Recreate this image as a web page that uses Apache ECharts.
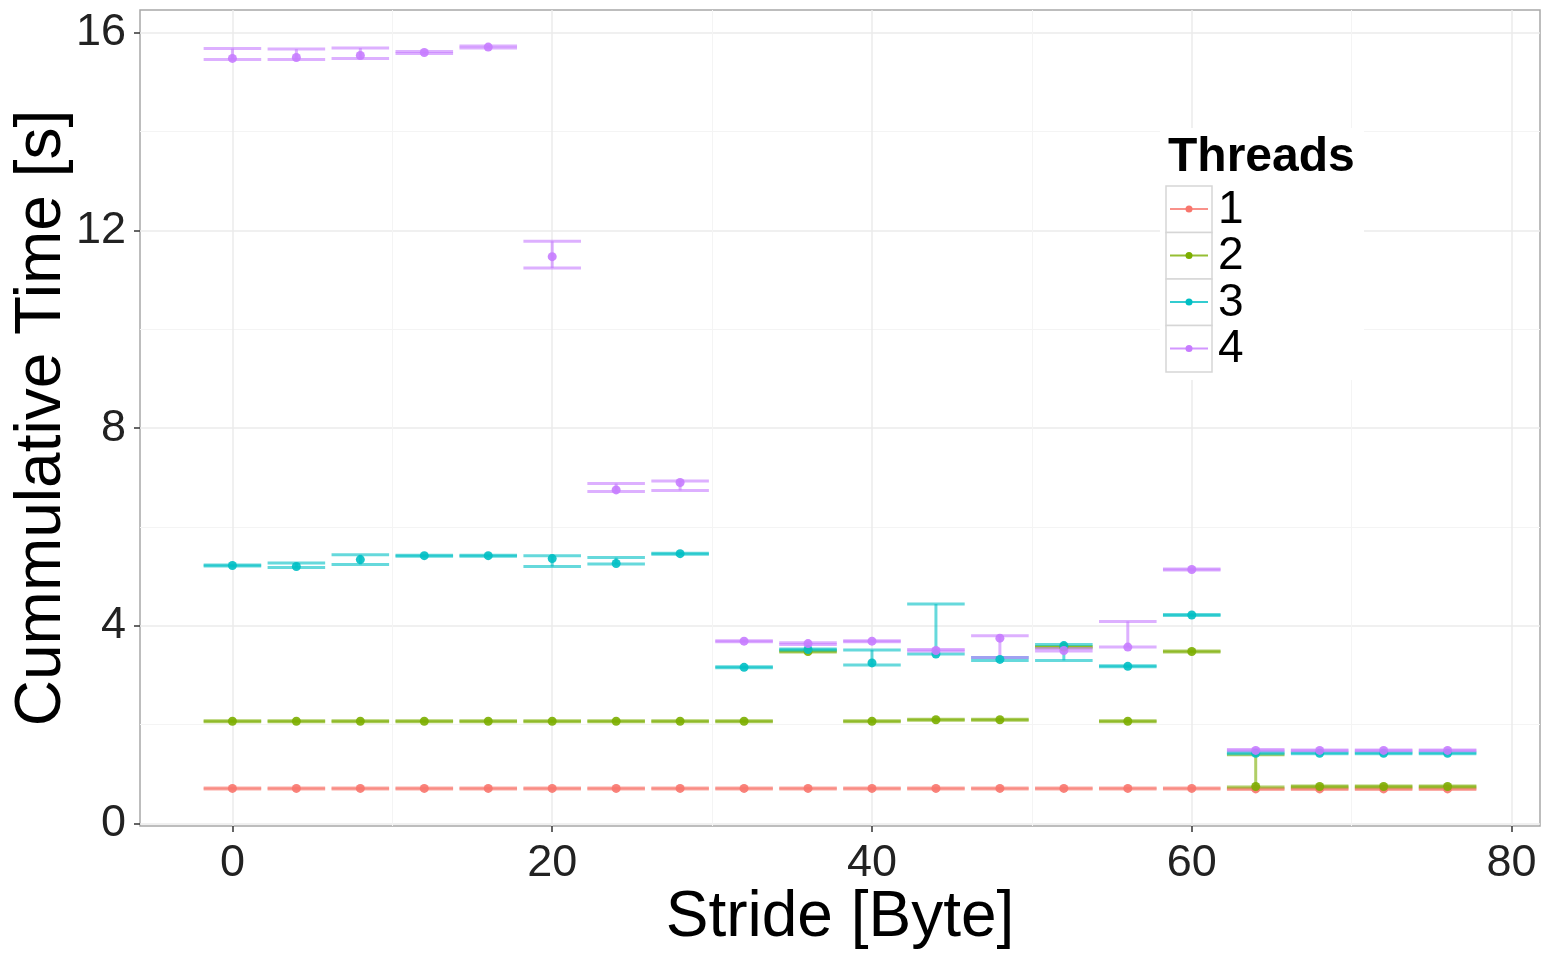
<!DOCTYPE html>
<html>
<head>
<meta charset="utf-8">
<script src="https://cdn.jsdelivr.net/npm/echarts@6/dist/echarts.min.js"></script>
<style>
  html, body { margin: 0; padding: 0; background: #fff; }
  #chart { width: 1542px; height: 956px; }
</style>
</head>
<body>
<div id="chart"></div>
<script>
// stride in bytes
const strides = [0, 4, 8, 12, 16, 20, 24, 28, 32, 36, 40, 44, 48, 52, 56, 60, 64, 68, 72, 76];
const threadNames = ['1', '2', '3', '4'];
const threadColors = ['#F8766D', '#7CAE00', '#00BFC4', '#C77CFF'];

// mean / low / high per thread
const t1Mean = [0.71, 0.71, 0.71, 0.71, 0.71, 0.71, 0.71, 0.71, 0.71, 0.71, 0.71, 0.71, 0.71, 0.71, 0.71, 0.71, 0.70, 0.70, 0.70, 0.70];
const t1Low  = [0.70, 0.70, 0.70, 0.70, 0.70, 0.70, 0.70, 0.70, 0.70, 0.70, 0.70, 0.70, 0.70, 0.70, 0.70, 0.70, 0.69, 0.69, 0.69, 0.69];
const t1High = [0.72, 0.72, 0.72, 0.72, 0.72, 0.72, 0.72, 0.72, 0.72, 0.72, 0.72, 0.72, 0.72, 0.72, 0.72, 0.72, 0.71, 0.71, 0.71, 0.71];

const t2Mean = [2.07, 2.07, 2.07, 2.07, 2.07, 2.07, 2.07, 2.07, 2.07, 3.48, 2.07, 2.10, 2.10, 3.57, 2.07, 3.48, 0.75, 0.75, 0.75, 0.75];
const t2Low  = [2.06, 2.06, 2.06, 2.06, 2.06, 2.06, 2.06, 2.06, 2.06, 3.47, 2.06, 2.09, 2.09, 3.56, 2.06, 3.47, 0.74, 0.74, 0.74, 0.74];
const t2High = [2.08, 2.08, 2.08, 2.08, 2.08, 2.08, 2.08, 2.08, 2.08, 3.49, 2.08, 2.11, 2.11, 3.58, 2.08, 3.49, 1.39, 0.76, 0.76, 0.76];

const t3Mean = [5.22, 5.20, 5.34, 5.42, 5.42, 5.36, 5.26, 5.46, 3.16, 3.52, 3.25, 3.43, 3.32, 3.60, 3.18, 4.22, 1.42, 1.42, 1.42, 1.42];
const t3Low  = [5.21, 5.18, 5.24, 5.41, 5.41, 5.20, 5.25, 5.45, 3.15, 3.51, 3.21, 3.43, 3.30, 3.30, 3.17, 4.21, 1.41, 1.41, 1.41, 1.41];
const t3High = [5.23, 5.27, 5.44, 5.43, 5.43, 5.42, 5.38, 5.47, 3.17, 3.53, 3.51, 4.44, 3.36, 3.62, 3.19, 4.23, 1.44, 1.43, 1.43, 1.43];

const t4Mean = [15.48, 15.50, 15.54, 15.60, 15.71, 11.47, 6.75, 6.90, 3.69, 3.64, 3.69, 3.50, 3.75, 3.50, 3.57, 5.14, 1.48, 1.48, 1.48, 1.48];
const t4Low  = [15.46, 15.46, 15.48, 15.58, 15.69, 11.24, 6.72, 6.74, 3.68, 3.62, 3.68, 3.49, 3.36, 3.49, 3.57, 5.13, 1.47, 1.47, 1.47, 1.47];
const t4High = [15.68, 15.67, 15.69, 15.62, 15.73, 11.78, 6.88, 6.93, 3.70, 3.66, 3.70, 3.52, 3.80, 3.54, 4.09, 5.15, 1.50, 1.49, 1.49, 1.49];

const xMajor = [0, 20, 40, 60, 80];
const xMinor = [10, 30, 50, 70];
const yMajor = [0, 4, 8, 12, 16];
const yMinor = [2, 6, 10, 14];

const capHalf = 1.8; // half width of the error bar caps, in stride units
const font = '"Liberation Sans", Arial, Helvetica, sans-serif';

const means = [t1Mean, t2Mean, t3Mean, t4Mean];
const lows = [t1Low, t2Low, t3Low, t4Low];
const highs = [t1High, t2High, t3High, t4High];

function renderErrorBar(params, api) {
  const x = api.value(0);
  const pLo = api.coord([x, api.value(1)]);
  const pHi = api.coord([x, api.value(2)]);
  const l = api.coord([x - capHalf, 0])[0];
  const r = api.coord([x + capHalf, 0])[0];
  const style = {stroke: api.visual('color'), lineWidth: 3, opacity: 0.6};
  return {
    type: 'group',
    children: [
      {type: 'line', shape: {x1: pHi[0], y1: pHi[1], x2: pLo[0], y2: pLo[1]}, style: style},
      {type: 'line', shape: {x1: l, y1: pHi[1], x2: r, y2: pHi[1]}, style: style},
      {type: 'line', shape: {x1: l, y1: pLo[1], x2: r, y2: pLo[1]}, style: style}
    ]
  };
}

const series = [];
threadNames.forEach((name, i) => {
  series.push({
    name: name,
    type: 'custom',
    renderItem: renderErrorBar,
    itemStyle: {color: threadColors[i]},
    encode: {x: 0, y: [1, 2]},
    data: strides.map((s, k) => [s, lows[i][k], highs[i][k]]),
    silent: true,
    z: 2
  });
});
threadNames.forEach((name, i) => {
  series.push({
    name: name,
    type: 'scatter',
    symbolSize: 9,
    itemStyle: {color: threadColors[i], opacity: 0.9},
    data: strides.map((s, k) => [s, means[i][k]]),
    z: 3
  });
});

// legend drawn as boxes like the ggplot guide, on a white background
const legendGraphic = [{
  type: 'rect', shape: {x: 1160, y: 128, width: 204, height: 252},
  style: {fill: '#fff'}, z: 20
}, {
  type: 'text', left: 1168, top: 134, z: 21,
  style: {text: 'Threads', font: 'bold 48px ' + font, fill: '#000'}
}];
threadNames.forEach((name, i) => {
  const top = 186 + i * 46.5;
  legendGraphic.push(
    {type: 'rect', shape: {x: 1166, y: top, width: 46, height: 46.5},
      style: {fill: '#fff', stroke: '#d6d6d6', lineWidth: 1.5}, z: 21},
    {type: 'line', shape: {x1: 1170, y1: top + 23, x2: 1208, y2: top + 23},
      style: {stroke: threadColors[i], lineWidth: 2, opacity: 0.8}, z: 22},
    {type: 'circle', shape: {cx: 1189, cy: top + 23, r: 3.5},
      style: {fill: threadColors[i]}, z: 23},
    {type: 'text', x: 1218, y: top + 24, z: 23,
      style: {text: name, font: '46px ' + font, fill: '#000', verticalAlign: 'middle'}}
  );
});

const chart = echarts.init(document.getElementById('chart'));
chart.setOption({
  backgroundColor: '#fff',
  animation: false,
  grid: {
    left: 140, right: 2, top: 10, bottom: 130,
    outerBoundsMode: 'none', containLabel: false,
    show: true, backgroundColor: '#fff', borderColor: '#a8a8a8', borderWidth: 1.5
  },
  xAxis: [{
    type: 'value', min: -5.78, max: 81.78,
    name: 'Stride [Byte]', nameLocation: 'middle', nameGap: 60, nameMoveOverlap: false,
    nameTextStyle: {fontSize: 64, fontFamily: font, color: '#000'},
    axisLine: {show: false, onZero: false},
    axisTick: {show: true, customValues: xMajor, length: 6, lineStyle: {color: '#333', width: 1.5}},
    axisLabel: {customValues: xMajor, fontSize: 45, fontFamily: font, color: '#222', margin: 15},
    splitLine: {show: true, lineStyle: {color: '#ebebeb', width: 1.5}}
  }, {
    type: 'value', min: -5.78, max: 81.78, position: 'bottom',
    axisLine: {show: false, onZero: false},
    axisTick: {show: false, customValues: xMinor},
    axisLabel: {show: false},
    splitLine: {show: true, lineStyle: {color: '#f4f4f4', width: 1}}
  }],
  yAxis: [{
    type: 'value', min: -0.05, max: 16.46,
    name: 'Cummulative Time [s]', nameLocation: 'middle', nameGap: 66, nameRotate: 90,
    nameMoveOverlap: false,
    nameTextStyle: {fontSize: 64, fontFamily: font, color: '#000'},
    axisLine: {show: false, onZero: false},
    axisTick: {show: true, customValues: yMajor, length: 6, lineStyle: {color: '#333', width: 1.5}},
    axisLabel: {customValues: yMajor, fontSize: 45, fontFamily: font, color: '#222', margin: 14},
    splitLine: {show: true, lineStyle: {color: '#ebebeb', width: 1.5}}
  }, {
    type: 'value', min: -0.05, max: 16.46, position: 'left',
    axisLine: {show: false, onZero: false},
    axisTick: {show: false, customValues: yMinor},
    axisLabel: {show: false},
    splitLine: {show: true, lineStyle: {color: '#f4f4f4', width: 1}}
  }],
  graphic: legendGraphic,
  series: series
});
</script>
</body>
</html>
